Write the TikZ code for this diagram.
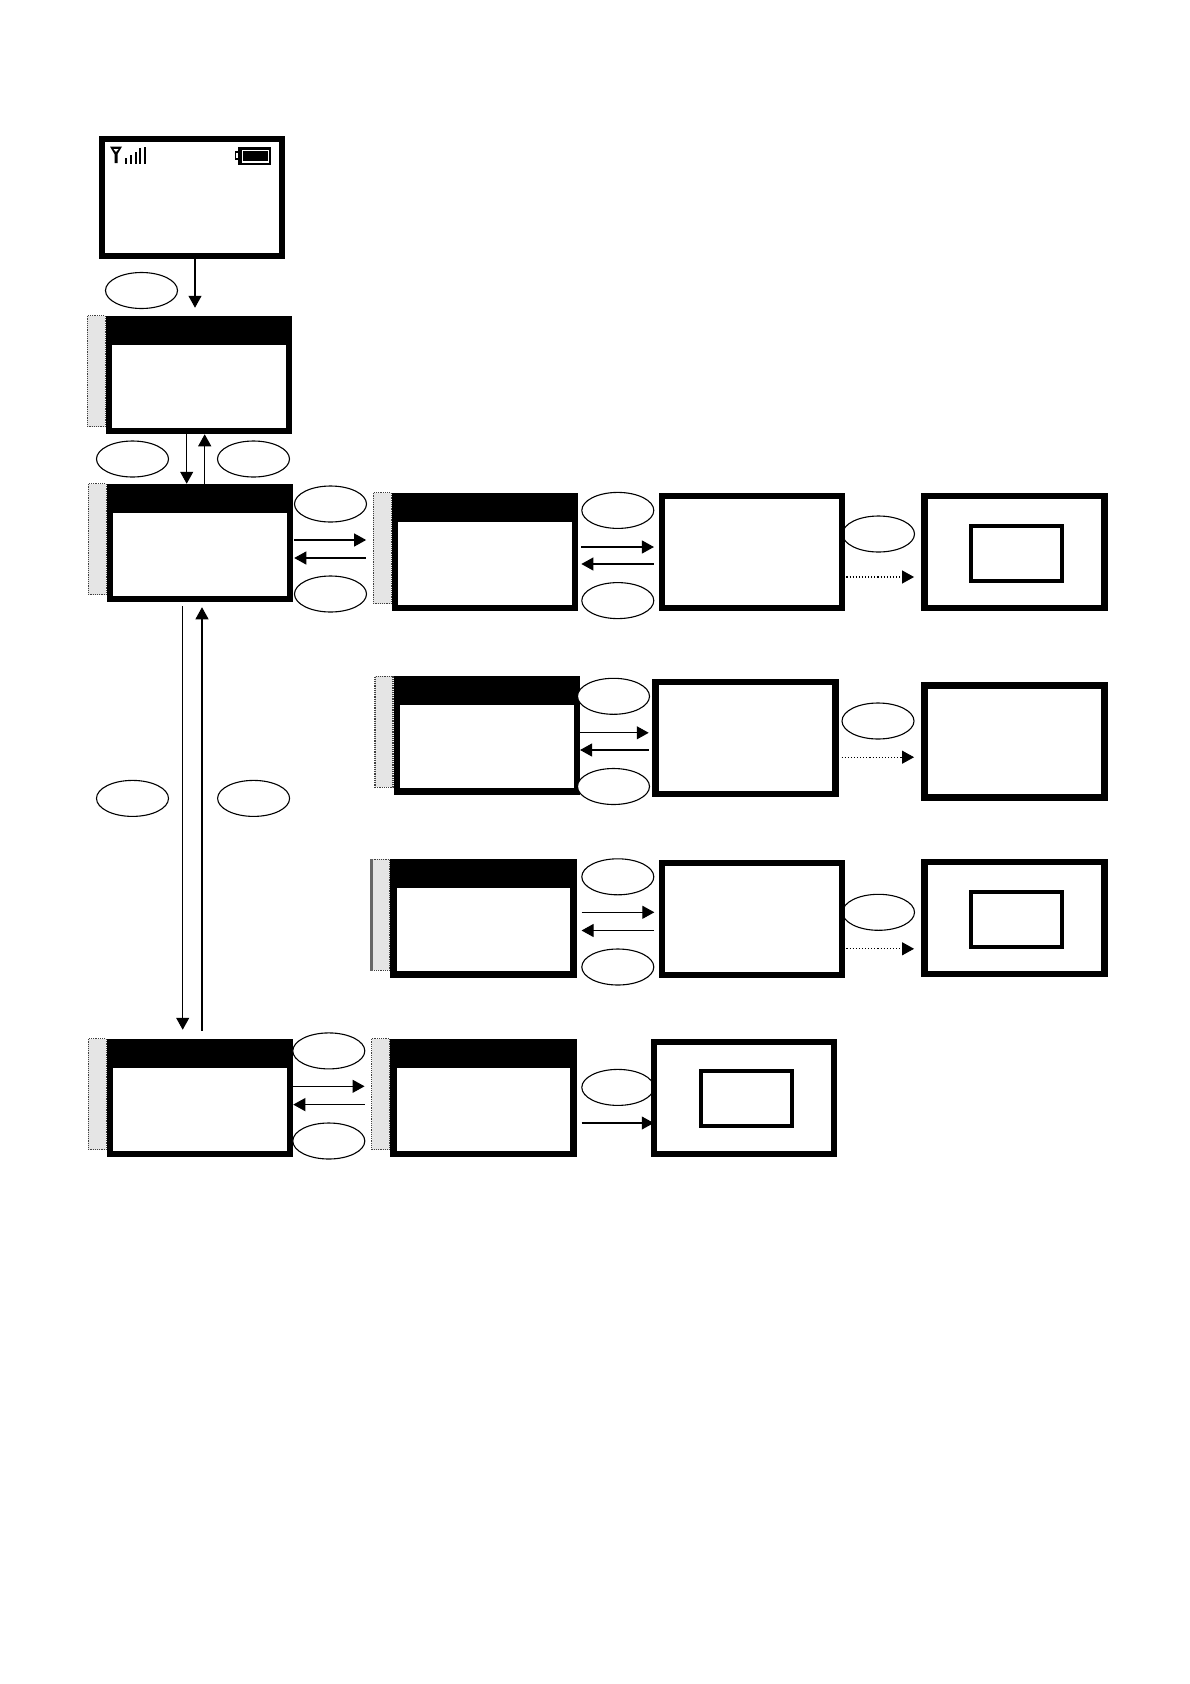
\documentclass[tikz,border=0pt]{standalone}
\usetikzlibrary{arrows.meta,shapes.geometric}
\tikzset{
	manhinh/.style={draw, line width=6.5pt, fill=white, inner sep=0pt, minimum width=180pt, minimum height=112pt},
	nhan/.style={draw, ellipse, line width=1.1pt, fill=white, inner sep=0pt, minimum width=72pt, minimum height=36pt},
	dai/.style={draw=black!75, densely dotted, line width=1.2pt, fill=black!10, inner sep=0pt, minimum width=18pt, minimum height=111pt, anchor=north east},
	khung/.style={draw, line width=4pt, fill=white, inner sep=0pt, minimum width=91pt, minimum height=55pt},
	mui/.style={line width=1.1pt, >={Triangle[length=12pt,width=13pt]}},
	cham/.style={mui, dotted}
}
\begin{document}
\begin{tikzpicture}[x=1pt, y=-1pt, line join=miter]
	\useasboundingbox (0,0) rectangle (1190,1684);
	% nhan nam duoi cac man hinh
	\foreach \ten/\x/\y in {e4/878.5/534, e7/878/721, e10/878.5/912.3, e13/617.8/1087.4}
		\node[nhan] (\ten) at (\x,\y) {};
	% man hinh
	\node[manhinh, minimum height=117pt] (scr) at (192,197.5) {};
	\foreach \ten/\x/\y in {m1/199/375, m2/200/543, m3/485.1/552, m6/486.8/735.3, m9/483.5/918.5, m12/200/1098, m13/483.5/1098}
		\node[manhinh] (\ten) at (\x,\y) {};
	\foreach \ten/\x/\y in {m4/752.2/552, m5/1014.3/552, m7/745.7/738, m8/1014.3/741.5, m10/752.2/918.8, m11/1014.3/918, m14/744/1098}
		\node[manhinh] (\ten) at (\x,\y) {};
	% thanh den va dai xam
	\foreach \ten in {m1,m2,m3,m6,m9,m12,m13}{
		\fill (\ten.north west) rectangle ([yshift=-29pt]\ten.north east);
		\node[dai] (s\ten) at ([yshift=0.5pt]\ten.north west) {};
	}
	\draw[black!60, line width=3pt] ([xshift=0.5pt]sm9.north west) -- ([xshift=0.5pt]sm9.south west);
	% khung trong
	\foreach \ten/\x/\y in {k5/1016.5/553, k11/1016.5/919.5, k14/746.3/1098.6}
		\node[khung] (\ten) at (\x,\y) {};
	% nhan con lai
	\foreach \ten/\x/\y in {e1/141.5/290.5, e2/132.5/459, e3/253.5/459, ea/330.5/504, eb/330.5/594, ec/617.8/510.4, ed/617.8/600.6, ee/613.5/696.3, ef/613.5/786.5, eg/617.8/876.8, eh/617.8/967, ei/132.5/798.4, ej/253.6/798.4, ek/328.8/1050.9, el/328.8/1141}
		\node[nhan] (\ten) at (\x,\y) {};
	% mui ten doc
	\draw[mui,->,shorten >=8pt] ([xshift=3pt]scr.south) -- ([xshift=3pt]scr.south |- m1.north);
	\draw[mui,->] ([xshift=-12.3pt]m1.south) -- ([xshift=-12.3pt]m1.south |- m2.north);
	\draw[mui,<-] ([xshift=5.7pt]m1.south) -- ([xshift=5.7pt]m1.south |- m2.north);
	\draw[mui,->,shorten <=4pt,shorten >=9pt] ([xshift=-17.3pt]m2.south) -- ([xshift=-17.3pt]m2.south |- m12.north);
	\draw[mui,<-,shorten <=5pt,shorten >=8pt] ([xshift=2pt]m2.south) -- ([xshift=2pt]m2.south |- m12.north);
	% mui ten ngang hai chieu
	\foreach \a/\b/\dr/\dl/\gapa/\gapb in {m2/sm3/3/-15/1/6.5, m3/m4/5/-12/3/5, m6/m7/2.5/-14.7/0/3.7, m9/m10/6.2/-12/4.8/4.6, m12/sm13/11.7/-6.6/0/6.5}{
		\draw[mui,->,shorten <=\gapa pt,shorten >=\gapb pt] ([yshift=\dr pt]\a.east) -- ([yshift=\dr pt]\a.east -| \b.west);
		\draw[mui,<-,shorten <=\gapa pt,shorten >=\gapb pt] ([yshift=\dl pt]\a.east) -- ([yshift=\dl pt]\a.east -| \b.west);
	}
	% mui ten cham
	\foreach \a/\b/\dy/\gapa in {m4/m5/-25/1, m7/m8/-19.2/2.6, m10/m11/-30/1}
		\draw[cham,->,shorten <=\gapa pt,shorten >=7pt] ([yshift=\dy pt]\a.east) -- ([yshift=\dy pt]\a.east -| \b.west);
	\draw[mui,->,shorten <=4.8pt,shorten >=-3pt] ([yshift=-25pt]m13.east) -- ([yshift=-25pt]m13.east -| m14.west);
	% ang ten va cot song
	\fill (110,146.5) -- (122,146.5) -- (117.5,154) -- (117.5,163) -- (114.5,163) -- (114.5,154) -- cycle;
	\fill[white] (113.5,149) -- (118.5,149) -- (116,152) -- cycle;
	\foreach \x/\y in {124.5/158, 129.5/155, 134.5/152, 139/148, 143.5/146.5}
		\fill (\x,\y) rectangle (\x+2,163.5);
	% pin
	\fill (234.5,151) rectangle (238,160);
	\fill[white] (236,153) rectangle (238,158);
	\fill (238,146.5) rectangle (271,165);
	\fill[white] (241.5,149.5) rectangle (269,162.5);
	\fill (243,150.5) rectangle (268,161);
\end{tikzpicture}
\end{document}
